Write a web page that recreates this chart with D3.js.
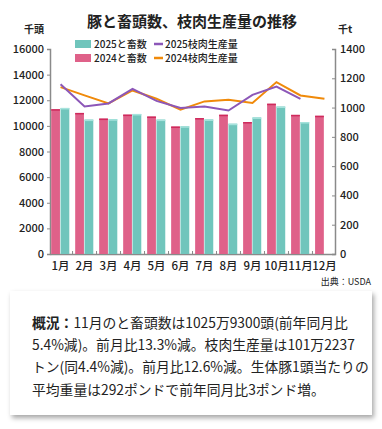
<!DOCTYPE html>
<html>
<head>
<meta charset="utf-8">
<script src="https://cdn.jsdelivr.net/npm/d3@7"></script>
<style>
  body { margin: 0; background: #fff; }
  svg text { font-family: "Noto Sans CJK JP", "Noto Sans", sans-serif; fill: #222; }
</style>
</head>
<body>
<div id="viz"></div>
<script>
const months = ["1月", "2月", "3月", "4月", "5月", "6月", "7月", "8月", "9月", "10月", "11月", "12月"]
// と畜数 (千頭)
const slaughter2024 = [11300, 11010, 10570, 10880, 10730, 9950, 10610, 10870, 10300, 11730, 10860, 10790]
const slaughter2025 = [11400, 10490, 10520, 10930, 10490, 9970, 10500, 10170, 10660, 11510, 10300]
// 枝肉生産量 (千t)
const prod2024 = [1140, 1083, 1028, 1117, 1060, 985, 1042, 1053, 1031, 1174, 1083, 1060]
const prod2025 = [1160, 1008, 1028, 1128, 1046, 997, 1008, 980, 1087, 1144, 1060]
const leftTicks = [0, 2000, 4000, 6000, 8000, 10000, 12000, 14000, 16000]
const rightTicks = [0, 200, 400, 600, 800, 1000, 1200, 1400]
const noteLines = [
  ["概況：", "11月のと畜頭数は1025万9300頭(前年同月比"],
  ["", "5.4%減)。前月比13.3%減。枝肉生産量は101万2237"],
  ["", "トン(同4.4%減)。前月比12.6%減。生体豚1頭当たりの"],
  ["", "平均重量は292ポンドで前年同月比3ポンド増。"]
]

const colors = {
  pink: "#df6189", pinkTop: "#cf2a5c",
  teal: "#70c5bc", tealTop: "#a6e3dd",
  orange: "#f08a0a", purple: "#8c57b8",
  axis: "#8a8a8a"
}

const W = 382, H = 429
const plot = { left: 50, right: 335, top: 49, bottom: 254 }

const svg = d3.select("#viz").append("svg").attr("width", W).attr("height", H)
svg.append("rect").attr("width", W).attr("height", H).attr("fill", "#fff")

const x = d3.scaleBand().domain(months).range([plot.left, plot.right]).paddingInner(0.22).paddingOuter(0.05)
const yL = d3.scaleLinear().domain([0, 16000]).range([plot.bottom, plot.top])
const yR = d3.scaleLinear().domain([0, 1400]).range([plot.bottom, plot.top])
const bw = x.bandwidth() / 2

// title
svg.append("text").attr("x", 192).attr("y", 27).attr("text-anchor", "middle")
  .style("font-size", "15px").style("font-weight", "bold").text("豚と畜頭数、枝肉生産量の推移")
svg.append("text").attr("x", 34).attr("y", 33).attr("text-anchor", "middle")
  .style("font-size", "10px").style("font-weight", "bold").text("千頭")
svg.append("text").attr("x", 345).attr("y", 33).attr("text-anchor", "middle")
  .style("font-size", "10px").style("font-weight", "bold").text("千t")

// axes
const axL = svg.append("g").attr("transform", `translate(${plot.left},0)`)
  .call(d3.axisLeft(yL).tickValues(leftTicks).tickFormat(d3.format("d")).tickSize(3).tickPadding(3))
const axR = svg.append("g").attr("transform", `translate(${plot.right},0)`)
  .call(d3.axisRight(yR).tickValues(rightTicks).tickFormat(d3.format("d")).tickSize(-3).tickPadding(5))
const axB = svg.append("g").attr("transform", `translate(0,${plot.bottom})`)
  .call(d3.axisBottom(x).tickSize(0).tickPadding(8))
;[axL, axR, axB].forEach(g => {
  g.select(".domain").attr("stroke", colors.axis).attr("stroke-width", 1.5)
  g.selectAll(".tick line").attr("stroke", colors.axis)
  g.selectAll(".tick text").style("font-size", "11px").style("font-weight", "500").attr("fill", "#222")
})
axB.selectAll(".tick text").style("font-size", "11.5px")
// small ticks between month groups
svg.append("g").selectAll("line").data(months.slice(1)).join("line")
  .attr("x1", d => x(d) - x.step() * x.paddingInner() / 2)
  .attr("x2", d => x(d) - x.step() * x.paddingInner() / 2)
  .attr("y1", plot.bottom).attr("y2", plot.bottom - 3)
  .attr("stroke", colors.axis)

// bars
const bars = svg.append("g")
const drawBars = (vals, dx, fill, top) => {
  const g = bars.append("g")
  g.selectAll("rect.b").data(vals).join("rect").attr("class", "b")
    .attr("x", (d, i) => x(months[i]) + dx).attr("width", bw - 0.6)
    .attr("y", d => yL(d)).attr("height", d => yL(0) - yL(d)).attr("fill", fill)
  g.selectAll("rect.t").data(vals).join("rect").attr("class", "t")
    .attr("x", (d, i) => x(months[i]) + dx).attr("width", bw - 0.6)
    .attr("y", d => yL(d)).attr("height", 1.5).attr("fill", top)
}
drawBars(slaughter2024, 0, colors.pink, colors.pinkTop)
drawBars(slaughter2025, bw, colors.teal, colors.tealTop)

// lines
const line = d3.line().x((d, i) => x(months[i]) + x.bandwidth() / 2).y(d => yR(d))
svg.append("path").datum(prod2024).attr("d", line).attr("fill", "none")
  .attr("stroke", colors.orange).attr("stroke-width", 2)
svg.append("path").datum(prod2025).attr("d", line).attr("fill", "none")
  .attr("stroke", colors.purple).attr("stroke-width", 2)

// legend
const legend = [
  { label: "2025と畜数", type: "box", fill: colors.teal, x: 75, y: 44 },
  { label: "2024と畜数", type: "box", fill: colors.pink, x: 75, y: 58 },
  { label: "2025枝肉生産量", type: "line", fill: colors.purple, x: 154, y: 44 },
  { label: "2024枝肉生産量", type: "line", fill: colors.orange, x: 154, y: 58 }
]
const lg = svg.append("g").selectAll("g").data(legend).join("g")
  .attr("transform", d => `translate(${d.x},${d.y})`)
lg.filter(d => d.type === "box").append("rect")
  .attr("x", 0).attr("y", -4).attr("width", 16).attr("height", 8).attr("fill", d => d.fill)
lg.filter(d => d.type === "line").append("line")
  .attr("x1", 0).attr("x2", 9).attr("y1", 0).attr("y2", 0)
  .attr("stroke", d => d.fill).attr("stroke-width", 2.5)
lg.append("text").attr("x", d => d.type === "box" ? 19 : 11).attr("y", 3.5)
  .style("font-size", "10px").style("font-weight", "500").text(d => d.label)

svg.append("text").attr("x", 371).attr("y", 285).attr("text-anchor", "end")
  .style("font-size", "9px").text("出典：USDA")

// note box
const defs = svg.append("defs")
const f = defs.append("filter").attr("id", "shadow").attr("x", "-5%").attr("y", "-10%").attr("width", "115%").attr("height", "130%")
f.append("feDropShadow").attr("dx", 2).attr("dy", 3).attr("stdDeviation", 2.5).attr("flood-color", "#000").attr("flood-opacity", 0.35)
svg.append("rect").attr("x", 10).attr("y", 291).attr("width", 362).attr("height", 124)
  .attr("fill", "#fff").attr("filter", "url(#shadow)")

const note = svg.append("g")
noteLines.forEach((ln, i) => {
  const t = note.append("text").attr("x", 32).attr("y", 328 + i * 22.2).style("font-size", "13.8px")
  if (ln[0]) t.append("tspan").style("font-weight", "bold").text(ln[0])
  t.append("tspan").text(ln[1])
})
</script>
</body>
</html>
